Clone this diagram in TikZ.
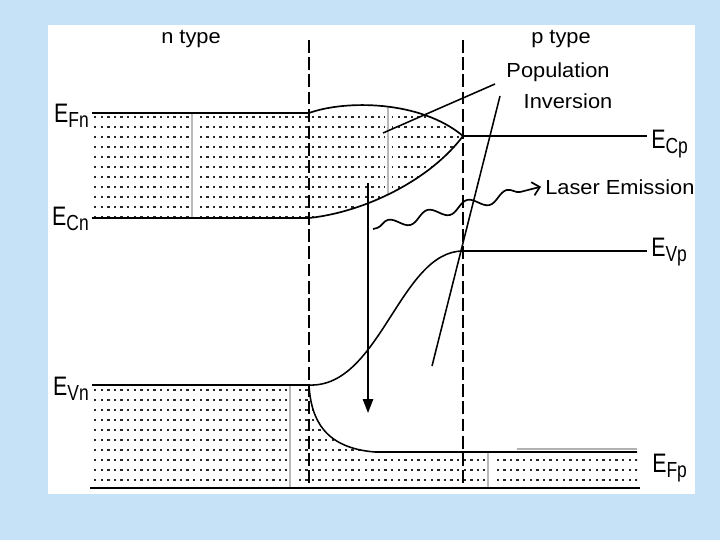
\documentclass[tikz,border=0pt]{standalone}
\usepackage{fontspec}
\setmainfont{Liberation Sans}
\usetikzlibrary{arrows.meta,decorations.pathmorphing}

\definecolor{slidebg}{RGB}{198,226,247}
\definecolor{dotgray}{RGB}{40,40,40}

% stretched text and band-edge labels
\newcommand{\wide}[1]{\scalebox{1.07}[1]{#1}}
\newcommand{\elev}[1]{\scalebox{0.8}[1]{\fontsize{19}{19}\selectfont E\raisebox{-0.4ex}{\fontsize{15.5}{15.5}\selectfont #1}}}

\begin{document}
\begin{tikzpicture}[x=0.025cm, y=-0.025cm, line join=round,
		band/.style={black, line width=1.3pt},
		junction/.style={black, line width=1.5pt, dash pattern=on 3.2mm off 1.1mm},
		guide/.style={gray!55, line width=1pt},
		lbl/.style={font=\fontsize{14.5}{16}\selectfont, inner sep=0pt},
		wave/.style={decorate, decoration={snake, segment length=1.02cm, amplitude=1.3mm, pre length=1mm, post length=2mm}}]
	% Levels (pixel coordinates)
	\def\xl{92} \def\xj{309} \def\xp{463} \def\xr{640}
	\def\yFn{113} \def\yCn{218} \def\yCp{136} \def\yVp{251}
	\def\yVn{385} \def\yFp{452} \def\ybot{488}
	
	% Slide background
	\useasboundingbox (0,0) rectangle (720,540);
	\fill[slidebg] (0,0) rectangle (720,540);
	\fill[white] (48,25) rectangle (695,494);
	
	% Electrons: n side and population inversion lens
	\begin{scope}
		\clip (\xl,\yFn) -- (\xj,\yFn) .. controls (345,100) and (420,100) .. (\xp,\yCp)
		.. controls (430,180) and (365,212) .. (\xj,\yCn) -- (\xl,\yCn) -- cycle;
		\foreach \i in {0,...,56} {
			\foreach \j in {0,...,10} {
				\fill[dotgray] (94+6.6*\i,115.5+10*\j) rectangle ++(2.4,2.6);
			}
		}
		\fill[white] (188.5,\yFn) rectangle (195.5,\yCn);
		\draw[guide] (192,\yFn) -- (192,\yCn);
		\fill[white] (384.5,100) rectangle (391.5,\yCn);
		\draw[guide] (388,100) -- (388,\yCn);
	\end{scope}
	
	% Holes: n valence band and p side
	\begin{scope}
		\clip (\xl,\yVn) -- (\xj,\yVn) .. controls (311,420) and (325,448) .. (375,\yFp)
		-- (637,\yFp) -- (637,\ybot) -- (\xl,\ybot) -- cycle;
		\foreach \i in {0,...,82} {
			\foreach \j in {0,...,10} {
				\fill[dotgray] (94+6.6*\i,388.5+10*\j) rectangle ++(2.4,2.6);
			}
		}
		\fill[white] (286.5,\yVn) rectangle (293.5,\ybot);
		\draw[guide] (290,\yVn) -- (290,\ybot);
		\fill[white] (484.5,\yFp) rectangle (491.5,\ybot);
		\draw[guide] (488,\yFp) -- (488,\ybot);
	\end{scope}
	
	% Junction boundaries
	\draw[junction] (\xj,40) -- (\xj,\ybot);
	\draw[junction] (\xp,40) -- (\xp,\ybot);
	
	% Texts
	\node[lbl, anchor=base] (ntype) at (191,43) {\wide{n type}};
	\node[lbl, anchor=base] (ptype) at (561,43) {\wide{p type}};
	\node[lbl, anchor=base] (pop) at (558,77) {\wide{Population}};
	\node[lbl, anchor=base] (inv) at (568,108) {\wide{Inversion}};
	\node[lbl, anchor=base west] (laser) at (545,194) {\wide{Laser Emission}};
	
	% Band edge labels
	\node[lbl, anchor=base east] (EFn) at (89,122) {\elev{Fn}};
	\node[lbl, anchor=base east] (ECn) at (89,225) {\elev{Cn}};
	\node[lbl, anchor=base east] (EVn) at (89,395) {\elev{Vn}};
	\node[lbl, anchor=base west] (ECp) at (651,148) {\elev{Cp}};
	\node[lbl, anchor=base west] (EVp) at (651,256) {\elev{Vp}};
	\node[lbl, anchor=base west] (EFp) at (652,472) {\elev{Fp}};
	
	% Key points
	\coordinate (cp) at (\xp,\yCp);
	\coordinate (vp) at (\xp,\yVp);
	\coordinate (vn) at (\xj,\yVn);
	\coordinate (fp) at (375,\yFp);
	
	% n side levels
	\draw[band] (\xl,\yFn) -- (\xj,\yFn);
	\draw[band] (\xl,\yCn) -- (\xj,\yCn);
	\draw[band] (\xl,\yVn) -- (vn);
	\draw[black, line width=2pt] (90,\ybot) -- (\xr,\ybot);
	
	% Conduction band lens
	\draw[black, line width=1.2pt] (\xj,\yFn) .. controls (345,100) and (420,100) .. (cp);
	\draw[black, line width=1.2pt] (\xj,\yCn) .. controls (365,212) and (430,180) .. (cp);
	\draw[black, line width=1.1pt] (cp) -- (647,\yCp);
	
	% Valence band and quasi Fermi level on p side
	\draw[black, line width=1.1pt] (vn) .. controls (380,388) and (400,\yVp) .. (vp);
	\draw[black, line width=1.2pt] (vp) -- (647,\yVp);
	\draw[black, line width=1.1pt] (vn) .. controls (311,420) and (325,448) .. (fp) -- (637,\yFp);
	\draw[gray!60, line width=1.3pt] (517,449) -- (637,449);
	
	% Population inversion pointers
	\coordinate (pinA) at (383,133);
	\coordinate (pinB) at (432,366);
	\draw[black, line width=1.1pt] (pinA) -- (495,84);
	\draw[black, line width=1.1pt] (pinB) -- (500,96);
	
	% Recombination and emitted light
	\coordinate (etop) at (368,183);
	\coordinate (ebot) at (368,413);
	\draw[black, line width=1.2pt, -{Triangle[length=3.5mm,width=2.6mm]}] (etop) -- (ebot);
	\coordinate (ph) at (373,229);
	\draw[black, line width=1.2pt, wave, -{Straight Barb[length=1.8mm,width=3.4mm]}] (ph) -- ([xshift=-1mm]laser.west);
	
\end{tikzpicture}
\end{document}
